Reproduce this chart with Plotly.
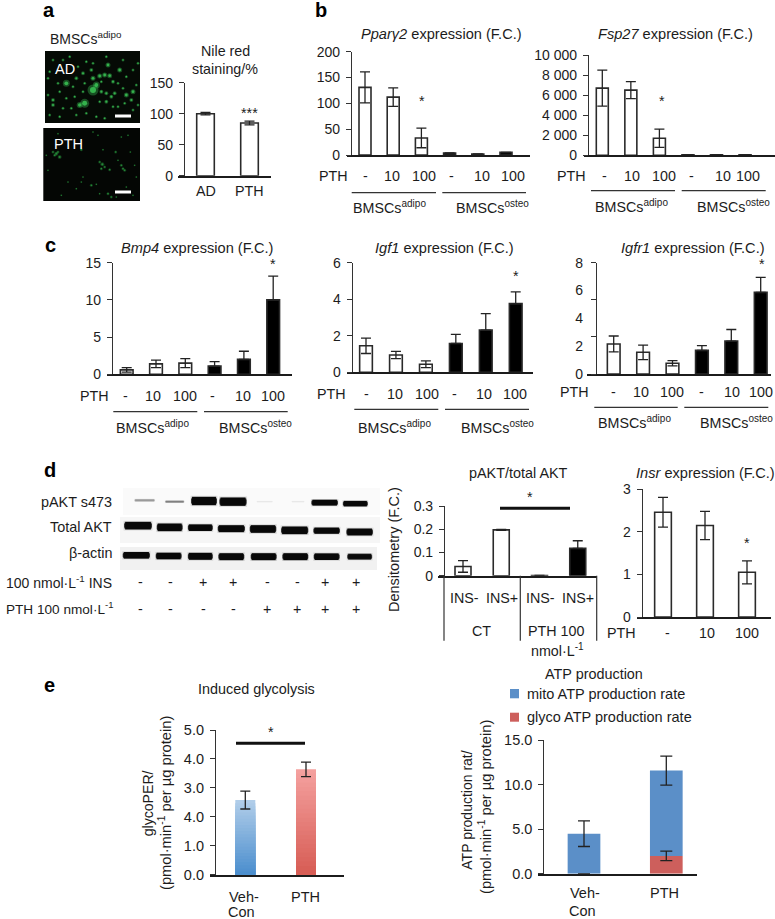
import plotly.graph_objects as go

W, H = 775, 919
FONT = "Liberation Sans"
INK = "#1c1c1c"

# ---------- data ----------
nile_labels = ["AD", "PTH"]
nile_values = [100, 85]
nile_err = [2, 3]

ppar_values = [131, 112, 33, 4, 2, 5]
ppar_err = [30, 18, 19, 0, 0, 0]
fsp_values = [6700, 6500, 1700, 60, 60, 60]
fsp_err = [1800, 850, 900, 0, 0, 0]
bmp_values = [0.6, 1.4, 1.5, 1.1, 2.0, 10.0]
bmp_err = [0.3, 0.5, 0.6, 0.6, 1.1, 3.2]
igf_values = [1.45, 0.95, 0.44, 1.58, 2.31, 3.76]
igf_err = [0.42, 0.2, 0.18, 0.5, 0.9, 0.64]
igfr_values = [2.16, 1.56, 0.77, 1.70, 2.37, 5.87]
igfr_err = [0.57, 0.52, 0.19, 0.34, 0.83, 1.08]
pakt_ratio = [0.04, 0.198, 0.001, 0.118]
pakt_ratio_err = [0.025, 0.002, 0, 0.033]
insr_values = [2.46, 2.15, 1.05]
insr_err = [0.35, 0.33, 0.27]
glyco_values = [2.58, 3.64]
glyco_err = [0.31, 0.25]
atp_glyco = [0, 2.0]
atp_glyco_err = [0, 0.54]
atp_mito = [4.5, 9.6]
atp_mito_err = [1.44, 1.63]
atp_legend = ["mito ATP production rate", "glyco ATP production rate"]

pth_ticks = ["-", "10", "100", "-", "10", "100"]
ins_row = ["-", "-", "+", "+", "-", "-", "+", "+"]
pth_row = ["-", "-", "-", "-", "+", "+", "+", "+"]

pakt_x = [80, 170, 258, 345, 440, 540, 620, 712]
pakt_y = [46, 50, 48, 50, 50, 50, 53, 56]
pakt_len = [62, 58, 78, 82, 50, 40, 80, 75]
pakt_t = [8, 7, 24, 24, 5, 5, 17, 16]
pakt_i = [0.18, 0.25, 1, 1, 0.03, 0.03, 1, 1]
total_x = [60, 155, 247, 340, 435, 530, 626, 725]
total_y = [122, 127, 128, 131, 132, 136, 137, 141]
total_len = [84, 78, 75, 82, 80, 82, 80, 80]
total_t = [22, 22, 19, 20, 22, 22, 18, 20]
total_i = [1, 1, 1, 1, 1, 1, 1, 1]
actin_x = [55, 152, 247, 340, 437, 532, 626, 725]
actin_y = [211, 213, 214, 215, 215, 215, 215, 215]
actin_len = [82, 78, 75, 78, 78, 78, 78, 75]
actin_t = [19, 19, 20, 20, 20, 20, 19, 17]
actin_i = [1, 1, 1, 1, 1, 1, 1, 0.9]

ad_x = [150, 125, 110, 70, 170, 200, 185, 210, 250, 270, 265, 215, 190, 205, 175, 190, 230, 195, 145, 120, 100, 125, 50, 30, 30, 60, 85, 100, 130, 160, 185, 250, 280, 270, 240, 190, 130, 150, 105, 20, 15, 45, 90, 95, 70, 15, 20, 50, 225, 245, 170, 210, 270, 285, 150, 225, 240, 120, 60, 30, 80, 160, 175, 285]
ad_y = [120, 160, 165, 100, 78, 77, 75, 95, 135, 125, 150, 130, 130, 140, 125, 155, 60, 45, 60, 70, 85, 100, 125, 150, 165, 175, 175, 195, 190, 200, 205, 80, 105, 60, 30, 20, 35, 40, 50, 65, 85, 100, 110, 140, 145, 135, 195, 200, 170, 160, 155, 170, 180, 165, 85, 100, 115, 125, 30, 30, 20, 105, 95, 40]
ad_s = [11, 9, 6, 7, 5, 5, 5, 4, 5, 5, 4, 4, 4, 4, 4, 4, 5, 5, 4, 4, 4, 3, 3, 4, 4, 3, 3, 3, 3, 3, 3, 3, 3, 3, 3, 3, 3, 3, 3, 3, 3, 3, 3, 3, 3, 3, 3, 3, 3, 3, 3, 3, 3, 3, 5, 3, 3, 3, 3, 3, 3, 7, 3, 3]
pth_x = [40, 35, 50, 30, 45, 115, 178, 170, 185, 175, 240, 235, 245, 225, 200, 218, 262, 180, 150, 165, 235, 255, 280, 275, 145, 160, 205, 220, 195, 250, 170, 75, 100, 115, 15, 10, 45, 270, 55, 120]
pth_y = [80, 85, 90, 75, 75, 68, 112, 105, 120, 125, 125, 115, 130, 100, 128, 75, 75, 68, 15, 25, 30, 25, 150, 115, 175, 172, 210, 210, 200, 180, 200, 165, 185, 165, 130, 85, 20, 205, 205, 150]
pth_s = [4, 3, 4, 3, 3, 3, 4, 3, 3, 3, 3, 3, 3, 2, 3, 3, 2, 2, 2, 2, 2, 2, 2, 2, 3, 2, 3, 2, 3, 2, 2, 2, 2, 2, 2, 2, 2, 2, 2, 2]

# ---------- helpers ----------
fig = go.Figure()
layout = {}
shapes, notes = [], []
TXT = 14.3
TITLE = 14.6


def px(x):
    return x / W


def py(y):
    return 1 - y / H


def text(x, y, s, size=TXT, anchor="center", color=INK, angle=0):
    notes.append(dict(x=px(x), y=py(y), xref="paper", yref="paper", text=s, showarrow=False,
                      xanchor=anchor, yanchor="middle", textangle=angle, borderpad=0,
                      font=dict(family=FONT, size=size, color=color)))


def seg(x0, y0, x1, y1, width=1.3, color="#333333"):
    shapes.append(dict(type="line", xref="paper", yref="paper", x0=px(x0), x1=px(x1), y0=py(y0), y1=py(y1),
                       line=dict(color=color, width=width)))


def box(x0, y0, x1, y1, fill):
    shapes.append(dict(type="rect", xref="paper", yref="paper", x0=px(x0), x1=px(x1), y0=py(y0), y1=py(y1),
                       fillcolor=fill, line=dict(width=0), layer="below"))


def axes(n, left, right, top, bottom, spine, ymax, c0, step, tickvals, ticktext, size=14, marks=None):
    layout[f"xaxis{n}"] = dict(domain=[px(left), px(right)], range=[(left - c0) / step, (right - c0) / step],
                               anchor=f"y{n}", showline=True, linecolor=INK, linewidth=1.5, showgrid=False,
                               zeroline=False, showticklabels=False, ticks="")
    y = dict(domain=[py(bottom), py(top)], range=[0, ymax], anchor="free", position=px(spine), showline=True,
             linecolor="#333333", linewidth=1.2, showgrid=False, zeroline=False, tickmode="array",
             tickvals=tickvals, ticktext=ticktext, ticks="outside", ticklen=5, tickwidth=1.2, tickcolor="#333333",
             ticklabelstandoff=3, tickfont=dict(family=FONT, size=size, color=INK), automargin=False)
    if marks is not None:
        y.update(ticks="", ticklen=5, ticklabelstandoff=10,
                 minor=dict(tickmode="array", tickvals=marks, ticks="outside", ticklen=5, tickwidth=1.2,
                            tickcolor="#333333"))
    layout[f"yaxis{n}"] = y


def bars(n, values, err, colors, step, barw, capw=5):
    minus = [e if c == "white" else 0 for c, e in zip(colors, err)]
    fig.add_trace(go.Bar(x=list(range(len(values))), y=values, width=barw / step, xaxis=f"x{n}", yaxis=f"y{n}",
                         marker=dict(color=colors, line=dict(color="#2a2a2a", width=1.6)), showlegend=False,
                         error_y=dict(type="data", symmetric=False, array=err, arrayminus=minus, color="#222222",
                                      thickness=1.3, width=capw)))


def group_labels(pth_x_pos, y_pth, xs, line_spans, y_line, y_name, name_xs):
    text(pth_x_pos, y_pth, "PTH")
    for x, s in zip(xs, pth_ticks):
        text(x, y_pth, s)
    for a, b in line_spans:
        seg(a, y_line, b, y_line, 1.3)
    text(name_xs[0], y_name, "BMSCs<sup>adipo</sup>")
    text(name_xs[1], y_name, "BMSCs<sup>osteo</sup>")


WHITE3_BLACK3 = ["white"] * 3 + ["black"] * 3


def hidden_axes(n, left, right, top, bottom, xr, yr):
    layout[f"xaxis{n}"] = dict(domain=[px(left), px(right)], range=xr, anchor=f"y{n}", visible=False)
    layout[f"yaxis{n}"] = dict(domain=[py(bottom), py(top)], range=yr, anchor=f"x{n}", visible=False)


# ---------- panel letters ----------
for x, y, s in [(49, 10.5, "a"), (321, 10.5, "b"), (50, 245, "c"), (50, 470, "d"), (49, 685, "e")]:
    text(x, y, f"<b>{s}</b>", size=20, color="#000000")


# ---------- a: micrographs ----------
def spots(n, xs, ys, ss, green, op):
    fig.add_trace(go.Scatter(x=xs, y=ys, mode="markers", xaxis=f"x{n}", yaxis=f"y{n}", showlegend=False,
                             hoverinfo="skip", marker=dict(size=[s * 1.0 for s in ss], color=green, opacity=0.35 * op,
                                                           line=dict(width=0))))
    fig.add_trace(go.Scatter(x=xs, y=ys, mode="markers", xaxis=f"x{n}", yaxis=f"y{n}", showlegend=False,
                             hoverinfo="skip", marker=dict(size=[s * 0.55 for s in ss], color=green, opacity=0.8 * op,
                                                           line=dict(width=0))))


box(45, 51, 140, 123, "#050a05")
box(43.3, 128, 140, 201, "#040604")
hidden_axes(1, 45, 140, 51, 123, [6, 291], [219, 3])
hidden_axes(2, 43.3, 140, 128, 201, [1, 291], [222, 3])
spots(1, ad_x, ad_y, ad_s, "#3ccc58", 1)
spots(2, pth_x, pth_y, pth_s, "#2fae48", 0.85)
seg(115, 116, 131, 116, 3, "white")
seg(115, 192, 131, 192, 3, "white")
text(54, 69, "AD", 14.5, "left", "white")
text(53, 144, "PTH", 14.5, "left", "white")
text(49, 38, "BMSCs<sup>adipo</sup>", 14, "left")

# ---------- a: Nile red ----------
axes(3, 178, 271, 82.7, 175.7, 184, 150, 205.5, 44, [0, 50, 100, 150], ["0", "50", "100", "150"])
bars(3, nile_values, nile_err, ["white", "white"], 44, 17.6, 5)
text(225, 51, "Nile red")
text(225, 69, "staining/%")
text(206, 191, nile_labels[0])
text(249, 191, nile_labels[1])
text(249, 113, "***")

# ---------- b ----------
axes(4, 346.7, 530, 51.7, 155, 351, 200, 365, 28.2, [0, 50, 100, 150, 200], ["0", "50", "100", "150", "200"])
bars(4, ppar_values, ppar_err, WHITE3_BLACK3, 28.2, 12, 5)
text(441, 34, "<i>Ppar\u03b32</i> expression (F.C.)", TITLE)
text(421.7, 101, "*")
group_labels(333, 176, [365, 391.7, 424, 451, 481.7, 512.7], [(351.7, 436), (442.3, 526)], 192.7, 207, [390, 492.7])

axes(5, 584, 775, 55, 155.3, 588, 10000, 602.3, 28.55, [0, 2000, 4000, 6000, 8000, 10000],
     ["0", "2 000", "4 000", "6 000", "8 000", "10 000"])
bars(5, fsp_values, fsp_err, WHITE3_BLACK3, 28.55, 12, 5)
text(675, 34, "<i>Fsp27</i> expression (F.C.)", TITLE)
text(662, 101, "*")
group_labels(571.7, 176, [604, 631.7, 664, 691.7, 723, 748], [(591, 675), (681.7, 765.7)], 190.7, 206, [631.7, 733.3])

# ---------- c ----------
axes(6, 107, 292, 262.7, 374.3, 112, 15, 126.7, 29.3, [0, 5, 10, 15], ["0", "5", "10", "15"])
bars(6, bmp_values, bmp_err, WHITE3_BLACK3, 29.3, 12.7, 5)
text(196.7, 248.3, "<i>Bmp4</i> expression (F.C.)", TITLE)
text(272.7, 264, "*")
group_labels(94, 396, [126, 152.7, 185, 212.3, 242.7, 273.3], [(113.3, 197.3), (204, 287.7)], 411.7, 426.7, [152.7, 255.7])

axes(7, 346.7, 533.3, 262.7, 372.3, 351.7, 6, 366, 29.94, [0, 2, 4, 6], ["0", "2", "4", "6"])
bars(7, igf_values, igf_err, WHITE3_BLACK3, 29.94, 12.7, 5)
text(444, 248.3, "<i>Igf1</i> expression (F.C.)", TITLE)
text(515.7, 276, "*")
group_labels(331.7, 394, [366.7, 395, 427, 454, 484.3, 515], [(354.3, 438.3), (445, 529)], 409.3, 426.7, [394, 497.3])

axes(8, 586.7, 771, 262.7, 374, 596, 8, 613.7, 29.4, [0, 2, 4, 6, 8], ["0", "2", "4", "6", "8"],
     marks=[0, 8 / 3, 16 / 3, 8])
bars(8, igfr_values, igfr_err, WHITE3_BLACK3, 29.4, 12.7, 5)
text(692.7, 248.3, "<i>Igfr1</i> expression (F.C.)", TITLE)
text(761.7, 264, "*")
group_labels(574.3, 391.7, [613.7, 641, 671.7, 701.7, 731.7, 761], [(594.3, 677.7), (684.3, 768.3)], 407.3, 422.3, [634, 736.7])

# ---------- d: blot ----------
box(123, 488, 380, 515, "#fafafa")
box(120, 517, 380, 543, "#f6f6f6")
box(120, 547, 377, 570, "#f1f1f1")
hidden_axes(9, 118, 383, 485, 573, [0, 795], [264, 0])
for xs, ys, ls, ts, iv in [(pakt_x, pakt_y, pakt_len, pakt_t, pakt_i),
                           (total_x, total_y, total_len, total_t, total_i),
                           (actin_x, actin_y, actin_len, actin_t, actin_i)]:
    for x, y, l, t, i in zip(xs, ys, ls, ts, iv):
        for fl, ft, alpha in [(1.03, 1.3, 0.12), (1.0, 0.5, 0.6), (0.97, 0.8, 0.8), (0.92, 1.05, 1.0)]:
            fig.add_trace(go.Scatter(x=[x - l * fl / 2, x + l * fl / 2], y=[y, y], mode="lines", xaxis="x9", yaxis="y9",
                                     showlegend=False, hoverinfo="skip",
                                     line=dict(color=f"rgba(8,8,8,{alpha * i:.3f})", width=t / 3 * ft)))
text(113, 502, "pAKT s473", 14.4, "right")
text(113, 527, "Total AKT", 14.4, "right")
text(113, 553, "\u03b2-actin", 14.4, "right")
text(113, 581.7, "100 nmol\u00b7L<sup>-1</sup> INS", 14, "right")
text(113.5, 608, "PTH 100 nmol\u00b7L<sup>-1</sup>", 13.6, "right")
for x, a, b in zip([140, 170, 203, 233, 267, 297, 325, 356], ins_row, pth_row):
    text(x, 582, a)
    text(x, 609, b)

# ---------- d: densitometry ----------
axes(10, 438.3, 596.7, 506.3, 575.7, 444, 0.3, 463, 38.25, [0, 0.1, 0.2, 0.3], ["0", "0.1", "0.2", "0.3"])
bars(10, pakt_ratio, pakt_ratio_err, ["white", "white", "white", "black"], 38.25, 16, 5)
text(518.7, 473, "pAKT/total AKT", 14.4)
text(394, 550, "Densitometry (F.C.)", 14.5, angle=-90)
seg(500, 508.3, 570, 508.3, 3, "#111111")
text(530, 497, "*")
for x in [444, 520.3, 596.7]:
    seg(x, 575.7, x, 640.7, 1.2)
for x, s in zip([464, 502, 540, 577.7], ["INS-", "INS+", "INS-", "INS+"]):
    text(x, 598.3, s)
text(481.7, 631, "CT")
text(556, 631, "PTH 100")
text(557, 650, "nmol\u00b7L<sup>-1</sup>")

# ---------- d: Insr ----------
axes(11, 636.7, 770.7, 489.3, 617, 641.7, 3, 663, 42, [0, 1, 2, 3], ["0", "1", "2", "3"])
bars(11, insr_values, insr_err, ["white"] * 3, 42, 16.7, 5)
text(705, 473, "<i>Insr</i> expression (F.C.)", TITLE)
text(621, 632.7, "PTH")
for x, s in zip([667.7, 706.7, 747.3], pth_ticks):
    text(x, 632.7, s)
text(747, 543, "*")

# ---------- e: glycolysis ----------
axes(12, 210, 344, 730, 874.7, 215, 5, 245.3, 60.7, [0, 1, 2, 3, 4, 5],
     ["0.0", "1.0", "4.0", "3.0", "4.0", "5.0"], size=14.5)
TOPS = [(176, 205, 233), (244, 160, 158)]
BOTTOMS = [(72, 140, 205), (214, 90, 82)]
STEPS = 24
for k in range(STEPS, 0, -1):
    frac = k / STEPS
    cols = []
    for top_c, bot_c in zip(TOPS, BOTTOMS):
        c = [round(b + (t - b) * frac) for t, b in zip(top_c, bot_c)]
        cols.append(f"rgb({c[0]},{c[1]},{c[2]})")
    fig.add_trace(go.Bar(x=[0, 1], y=[v * frac for v in glyco_values], width=20 / 60.7, xaxis="x12", yaxis="y12",
                         showlegend=False, hoverinfo="skip", marker=dict(color=cols, line=dict(width=0))))
fig.add_trace(go.Bar(x=[0, 1], y=glyco_values, width=20 / 60.7, xaxis="x12", yaxis="y12", showlegend=False,
                     marker=dict(color="rgba(0,0,0,0)", line=dict(width=0)),
                     error_y=dict(type="data", array=glyco_err, color="#222222", thickness=1.3, width=5)))
text(256.7, 689.3, "Induced glycolysis", 14.4)
seg(236, 743.3, 305, 743.3, 3, "#111111")
text(270.7, 732, "*")
text(148.3, 803, "glycoPER/", 14.1, angle=-90)
text(165, 803, "(pmol\u00b7min<sup>-1</sup> per \u00b5g protein)", 14.7, angle=-90)
text(244.3, 896.7, "Veh-", 14.5)
text(241.7, 911.5, "Con", 14.5)
text(305, 896.7, "PTH", 14.5)

# ---------- e: ATP ----------
axes(13, 538.3, 696.7, 740.3, 873.7, 543.3, 15, 584, 82.3, [0, 5, 10, 15], ["0.0", "5.0", "10.0", "15.0"], size=14.5)
BLUE, RED = "#5b8fc8", "#cd5f5c"
fig.add_trace(go.Bar(x=[0, 1], y=atp_mito, base=atp_glyco, width=32.7 / 82.3, xaxis="x13", yaxis="y13",
                     name=atp_legend[0], showlegend=False, marker=dict(color=BLUE, line=dict(width=0)),
                     error_y=dict(type="data", array=atp_mito_err, color="#222222", thickness=1.3, width=6)))
fig.add_trace(go.Bar(x=[0, 1], y=atp_glyco, width=32.7 / 82.3, xaxis="x13", yaxis="y13",
                     name=atp_legend[1], showlegend=False, marker=dict(color=RED, line=dict(width=0)),
                     error_y=dict(type="data", array=atp_glyco_err, color="#222222", thickness=1.3, width=6)))
text(594, 674.3, "ATP production", 14.4)
box(510, 689, 519, 698.3, BLUE)
box(510, 712.7, 519, 721.7, RED)
text(526, 693.5, atp_legend[0], 14.5, "left")
text(526, 716.5, atp_legend[1], 14.5, "left")
text(466.7, 810, "ATP production rat/", 14, angle=-90)
text(485, 807, "(pmol\u00b7min<sup>-1</sup> per \u00b5g protein)", 14.7, angle=-90)
text(585, 893.3, "Veh-", 14.5)
text(582.7, 910.5, "Con", 14.5)
text(664, 893.3, "PTH", 14.5)

layout.update(
    width=W, height=H, autosize=False, margin=dict(l=0, r=0, t=0, b=0), paper_bgcolor="white",
    plot_bgcolor="rgba(0,0,0,0)", barmode="overlay", shapes=shapes, annotations=notes, showlegend=False,
    font=dict(family=FONT, size=14, color=INK),
)
fig.update_layout(**layout)
fig.write_html("out.html", config={"displayModeBar": False},
               post_script="document.body.style.margin='0';")
